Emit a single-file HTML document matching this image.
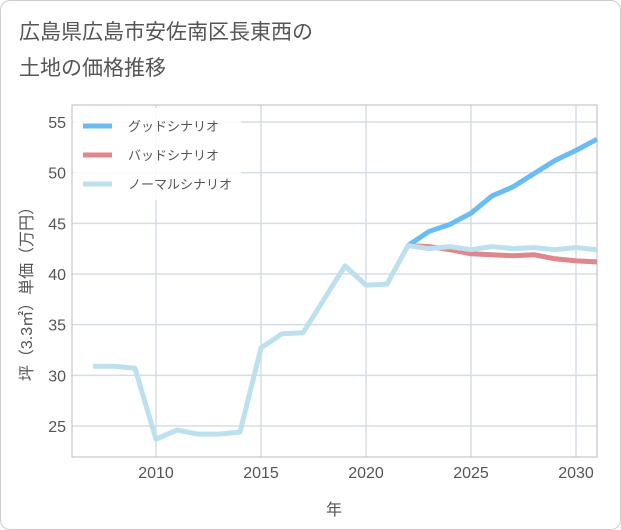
<!DOCTYPE html>
<html><head><meta charset="utf-8"><style>
body{margin:0;background:#fff;}
#wrap{position:relative;width:619px;height:528px;border:1px solid #ccc;border-radius:10px;overflow:hidden;background:#fff;font-family:"Liberation Sans","Noto Sans CJK JP",sans-serif;}
#title{position:absolute;left:18px;top:14px;font-size:21px;line-height:36px;color:#555;}
</style></head><body>
<div id="wrap">
<div id="title">広島県広島市安佐南区長東西の<br>土地の価格推移</div>
<svg id="c" width="621" height="530" style="position:absolute;left:-1px;top:-1px"></svg>
</div>
<script>
const years=[2007,2008,2009,2010,2011,2012,2013,2014,2015,2016,2017,2018,2019,2020,2021,2022,2023,2024,2025,2026,2027,2028,2029,2030,2031];
const normal=[30.9,30.9,30.7,23.7,24.6,24.2,24.2,24.4,32.7,34.1,34.2,37.5,40.8,38.9,39.0,42.8,42.5,42.7,42.4,42.7,42.5,42.6,42.4,42.6,42.4];
const goodYears=[2022,2023,2024,2025,2026,2027,2028,2029,2030,2031];
const good=[42.8,44.2,44.9,46.0,47.7,48.6,49.9,51.2,52.2,53.3];
const bad=[42.8,42.7,42.4,42.0,41.9,41.8,41.9,41.5,41.3,41.2];
const xTicks=[2010,2015,2020,2025,2030];
const yTicks=[25,30,35,40,45,50,55];
const L=72,R=597,T=105,B=457;
const x=v=>L+(v-2006)*21;
const y=v=>426-(v-25)*(304/30);
const svg=document.getElementById('c');const NS='http://www.w3.org/2000/svg';
function mk(t,a,p){const e=document.createElementNS(NS,t);for(const k in a)e.setAttribute(k,a[k]);(p||svg).appendChild(e);return e;}
const g=mk('g',{});


xTicks.forEach(v=>{mk('line',{x1:x(v),x2:x(v),y1:T,y2:B,stroke:'#d5dde5','stroke-width':1.5},g);
const t=mk('text',{x:x(v),y:478,'text-anchor':'middle','font-size':16,fill:'#555'});t.textContent=v;

});
yTicks.forEach(v=>{mk('line',{x1:L,x2:R,y1:y(v),y2:y(v),stroke:'#d5dde5','stroke-width':1.5},g);
const t=mk('text',{x:66,y:y(v)+6,'text-anchor':'end','font-size':16,fill:'#555'});t.textContent=v;

});
mk('rect',{x:L,y:T,width:R-L,height:B-T,fill:'none',stroke:'#bbb','stroke-width':1});
function line(xs,vs,col,name){const p=mk('polyline',{points:xs.map((yr,i)=>x(yr)+','+y(vs[i])).join(' '),fill:'none',stroke:col,'stroke-width':5,'stroke-linejoin':'round'});

}
line(goodYears,good,'#6bbcf2','good-scenario-line');
line(goodYears,bad,'#e0868c','bad-scenario-line');
line(years,normal,'#bde0ee','normal-scenario-line');
const lg=mk('g',{});


mk('rect',{x:L+1,y:T+3,width:168,height:92,fill:'#fff',opacity:0.85},lg);
[['グッドシナリオ','#6bbcf2'],['バッドシナリオ','#e0868c'],['ノーマルシナリオ','#bde0ee']].forEach((d,i)=>{
const yy=126+i*29;mk('line',{x1:83,x2:112,y1:yy,y2:yy,stroke:d[1],'stroke-width':5},lg);
const t=mk('text',{x:128,y:yy+5,'font-size':13,fill:'#555'},lg);t.textContent=d[0];

});
const xt=mk('text',{x:334,y:515,'text-anchor':'middle','font-size':16,fill:'#555'});xt.textContent='年';


const yt=mk('text',{x:0,y:0,'text-anchor':'middle','font-size':16,fill:'#555',transform:'translate(32,290) rotate(-90)'});yt.textContent='坪（3.3㎡）単価（万円）';


</script>
</body></html>
